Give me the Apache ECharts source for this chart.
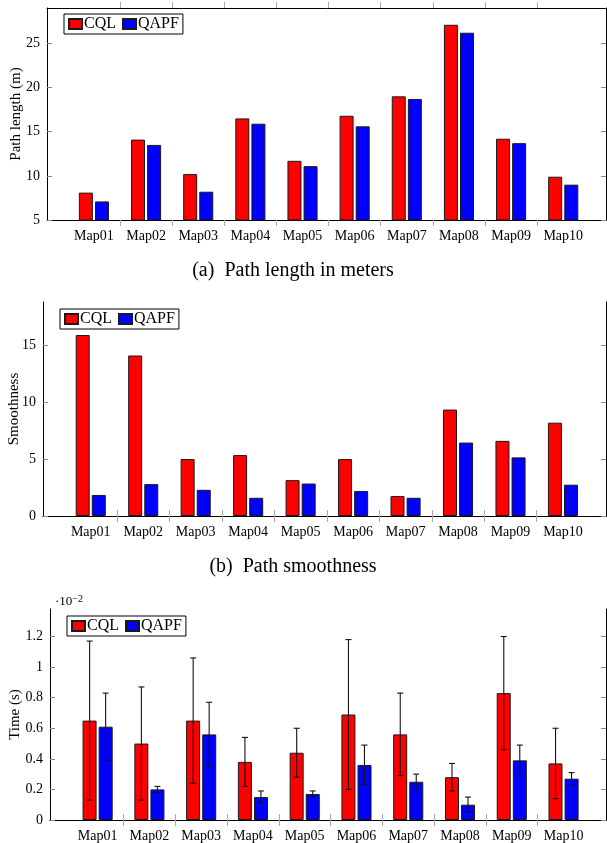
<!DOCTYPE html>
<html>
<head>
<meta charset="utf-8">
<title>CQL vs QAPF</title>
<script src="https://cdn.jsdelivr.net/npm/echarts@6/dist/echarts.min.js"></script>
<style>
    html, body { margin: 0; padding: 0; background: #fff; }
    #main { width: 607px; height: 843px; }
</style>
</head>
<body>
<div id="main"></div>
<script>
var mapNames = ['Map01', 'Map02', 'Map03', 'Map04', 'Map05', 'Map06', 'Map07', 'Map08', 'Map09', 'Map10'];
var labelPos = [1, 2, 3, 4, 5, 6, 7, 8, 9, 10];      // where the map names sit
var separatorPos = [1.5, 2.5, 3.5, 4.5, 5.5, 6.5, 7.5, 8.5, 9.5]; // ticks between groups

// (a) path length (m)
var lengthCQL = [8.1, 14.1, 10.2, 16.5, 11.7, 16.8, 19.0, 27.1, 14.2, 9.9];
var lengthQAPF = [7.1, 13.5, 8.2, 15.9, 11.1, 15.6, 18.7, 26.2, 13.7, 9.0];
var lengthTicks = [5, 10, 15, 20, 25];

// (b) smoothness
var smoothCQL = [15.9, 14.1, 5.0, 5.35, 3.15, 5.0, 1.75, 9.35, 6.6, 8.2];
var smoothQAPF = [1.85, 2.8, 2.3, 1.6, 2.85, 2.2, 1.6, 6.45, 5.15, 2.75];
var smoothTicks = [0, 5, 10, 15];

// (c) time, in units of 1e-2 s, with error bar ends
var timeCQL = [0.65, 0.5, 0.65, 0.38, 0.44, 0.69, 0.56, 0.28, 0.83, 0.37];
var timeCQLLow = [0.13, 0.13, 0.24, 0.22, 0.28, 0.2, 0.29, 0.19, 0.46, 0.14];
var timeCQLHigh = [1.17, 0.87, 1.06, 0.54, 0.6, 1.18, 0.83, 0.37, 1.2, 0.6];
var timeQAPF = [0.61, 0.2, 0.56, 0.15, 0.17, 0.36, 0.25, 0.1, 0.39, 0.27];
var timeQAPFLow = [0.39, 0.18, 0.35, 0.11, 0.15, 0.23, 0.2, 0.05, 0.29, 0.23];
var timeQAPFHigh = [0.83, 0.22, 0.77, 0.19, 0.19, 0.49, 0.3, 0.15, 0.49, 0.31];
var timeTicks = [0, 0.2, 0.4, 0.6, 0.8, 1, 1.2];

var FONT = 'Liberation Serif';
var RED = '#ff0000';
var BLUE = '#0000ff';

var chart = echarts.init(document.getElementById('main'));

// 三个子图的布局
var panels = [
    {left: 47, top: 8, height: 212, xMin: 0.1, xMax: 10.82, yMin: 5, yMax: 29, ticks: lengthTicks,
        yName: 'Path length (m)', nameGap: 23, legendLeft: 64, legendTop: 14},
    {left: 43, top: 302, height: 214, xMin: 0.09, xMax: 10.82, yMin: 0, yMax: 18.8, ticks: smoothTicks,
        yName: 'Smoothness', nameGap: 21, legendLeft: 60, legendTop: 309},
    {left: 50, top: 609, height: 211, xMin: 0.08, xMax: 10.82, yMin: 0, yMax: 1.38, ticks: timeTicks,
        yName: 'Time (s)', nameGap: 27, legendLeft: 67, legendTop: 616}
];

function pairs(values) {
    return values.map(function (v, i) { return [labelPos[i], v]; });
}

function errorData(low, high) {
    return low.map(function (v, i) { return [labelPos[i], v, high[i]]; });
}

function barSeries(name, color, values, gi) {
    return {
        name: name,
        type: 'bar',
        xAxisIndex: gi * 2,
        yAxisIndex: gi * 2,
        barWidth: 14,
        barGap: '15%',
        itemStyle: {color: color, borderColor: '#1a1a1a', borderWidth: 1},
        data: pairs(values)
    };
}

// 误差线
function errorSeries(name, low, high, side, gi) {
    return {
        name: name,
        type: 'custom',
        xAxisIndex: gi * 2,
        yAxisIndex: gi * 2,
        z: 5,
        encode: {x: 0, y: [1, 2]},
        data: errorData(low, high),
        renderItem: function (params, api) {
            var x = api.value(0);
            var hi = api.coord([x, api.value(2)]);
            var lo = api.coord([x, api.value(1)]);
            var px = hi[0] + side * 8;
            var cap = 3;
            var style = {stroke: '#111', lineWidth: 1.1};
            return {
                type: 'group',
                children: [
                    {type: 'line', shape: {x1: px, y1: hi[1], x2: px, y2: lo[1]}, style: style},
                    {type: 'line', shape: {x1: px - cap, y1: hi[1], x2: px + cap, y2: hi[1]}, style: style},
                    {type: 'line', shape: {x1: px - cap, y1: lo[1], x2: px + cap, y2: lo[1]}, style: style}
                ]
            };
        }
    };
}

var grids = [], xAxes = [], yAxes = [], legends = [];
panels.forEach(function (p, gi) {
    grids.push({left: p.left, right: 1, top: p.top, height: p.height, containLabel: false, outerBoundsMode: 'none'});
    var axisLine = {show: true, lineStyle: {color: '#000', width: 1}};
    xAxes.push({
        type: 'value', gridIndex: gi, position: 'bottom', min: p.xMin, max: p.xMax,
        axisLine: axisLine, splitLine: {show: false},
        axisTick: {show: true, inside: false, length: 6, lineStyle: {color: '#aaa'}, customValues: separatorPos},
        axisLabel: {
            customValues: labelPos, margin: 9, color: '#000', fontFamily: FONT, fontSize: 14,
            formatter: function (v) { return mapNames[Math.round(v) - 1]; }
        }
    });
    xAxes.push({
        type: 'value', gridIndex: gi, position: 'top', min: p.xMin, max: p.xMax,
        axisLine: axisLine, splitLine: {show: false},
        axisTick: {show: true, inside: false, length: 6, lineStyle: {color: '#aaa'}, customValues: separatorPos},
        axisLabel: {show: false}
    });
    yAxes.push({
        type: 'value', gridIndex: gi, position: 'left', min: p.yMin, max: p.yMax,
        name: p.yName, nameLocation: 'middle', nameGap: p.nameGap, nameMoveOverlap: false,
        nameTextStyle: {fontFamily: FONT, fontSize: 15, color: '#000'},
        axisLine: axisLine, splitLine: {show: false},
        axisTick: {show: true, inside: true, length: 5, lineStyle: {color: '#888'}, customValues: p.ticks},
        axisLabel: {customValues: p.ticks, margin: 7, color: '#000', fontFamily: FONT, fontSize: 14}
    });
    yAxes.push({
        type: 'value', gridIndex: gi, position: 'right', min: p.yMin, max: p.yMax,
        axisLine: axisLine, splitLine: {show: false},
        axisTick: {show: true, inside: true, length: 5, lineStyle: {color: '#888'}, customValues: p.ticks},
        axisLabel: {show: false}
    });
    legends.push({
        left: p.legendLeft, top: p.legendTop, orient: 'horizontal',
        data: ['CQL', 'QAPF'],
        icon: 'rect', itemWidth: 13, itemHeight: 10, itemGap: 6,
        borderColor: '#000', borderWidth: 1, padding: [2, 4, 2, 4],
        textStyle: {fontFamily: FONT, fontSize: 16, color: '#000', padding: [0, 0, 0, -3]}
    });
});

var option = {
    animation: false,
    backgroundColor: '#fff',
    title: [
        {text: '(a)  Path length in meters', left: 293, top: 261, textAlign: 'center', padding: 0,
            textStyle: {fontFamily: FONT, fontSize: 20, fontWeight: 'normal', color: '#000'}},
        {text: '(b)  Path smoothness', left: 293, top: 557, textAlign: 'center', padding: 0,
            textStyle: {fontFamily: FONT, fontSize: 20, fontWeight: 'normal', color: '#000'}},
        {text: '·10{sup|−2}', left: 55, top: 594, padding: 0,
            textStyle: {fontFamily: FONT, fontSize: 13, fontWeight: 'normal', color: '#000',
                rich: {sup: {fontFamily: FONT, fontSize: 10, verticalAlign: 'top', padding: [0, 0, 6, 0], color: '#000'}}}}
    ],
    grid: grids,
    xAxis: xAxes,
    yAxis: yAxes,
    legend: legends,
    series: [
        barSeries('CQL', RED, lengthCQL, 0),
        barSeries('QAPF', BLUE, lengthQAPF, 0),
        barSeries('CQL', RED, smoothCQL, 1),
        barSeries('QAPF', BLUE, smoothQAPF, 1),
        barSeries('CQL', RED, timeCQL, 2),
        barSeries('QAPF', BLUE, timeQAPF, 2),
        errorSeries('CQL error', timeCQLLow, timeCQLHigh, -1, 2),
        errorSeries('QAPF error', timeQAPFLow, timeQAPFHigh, 1, 2)
    ]
};

chart.setOption(option, true);
</script>
</body>
</html>
